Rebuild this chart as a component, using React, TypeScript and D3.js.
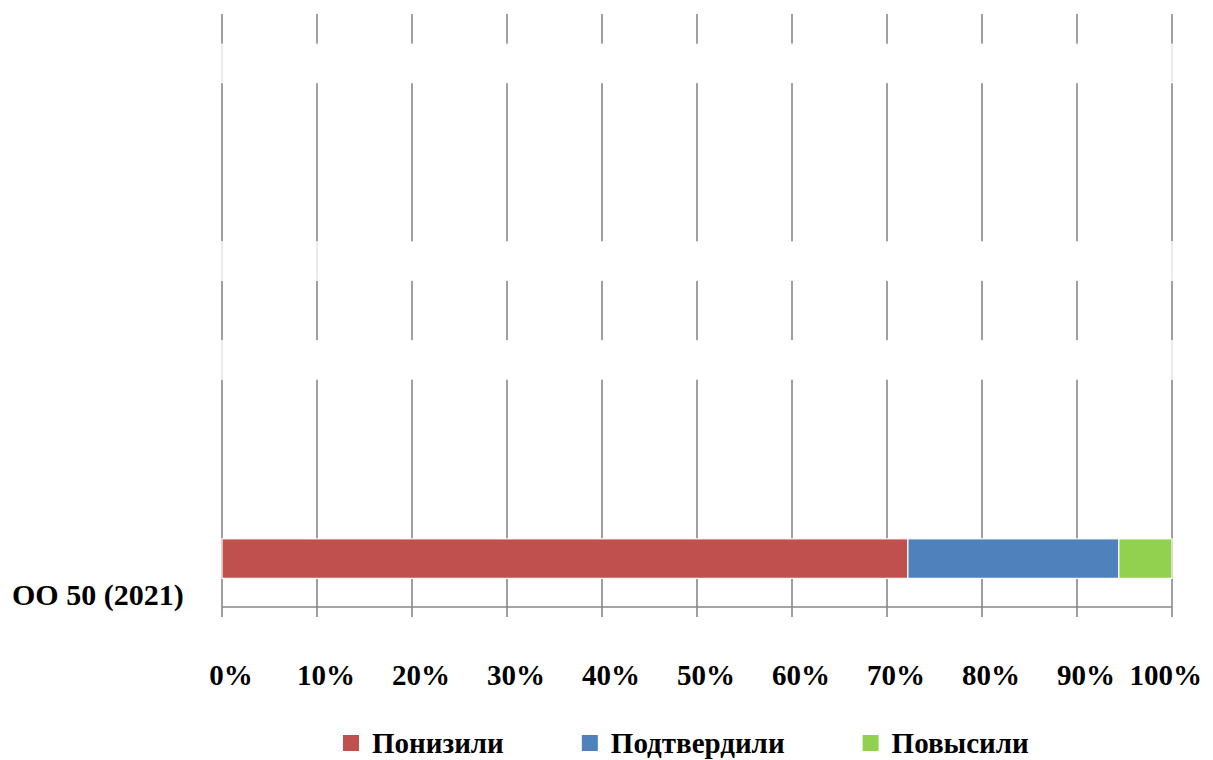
import React, { useEffect, useRef } from "react";
import * as d3 from "d3";

const categories = ["", "", "", "", "", "ОО 50 (2021)"];
const seriesNames = ["Понизили", "Подтвердили", "Повысили"];
const seriesColors = ["#C0504D", "#4F81BD", "#92D050"];
const ponizili = [0, 0, 0, 0, 0, 72.2];
const podtverdili = [0, 0, 0, 0, 0, 22.2];
const povysili = [0, 0, 0, 0, 0, 5.6];
// blank (white) rows hiding gridlines, stacked segment values per row
const blankRows = [[100], [], [10, 90], [100], [], []];
const xTicks = [0, 10, 20, 30, 40, 50, 60, 70, 80, 90, 100];

const W = 1213;
const H = 760;
const FONT = "'Liberation Serif', 'Times New Roman', serif";

export default function App() {
  const ref = useRef<SVGSVGElement>(null);

  useEffect(() => {
    const svg = d3.select(ref.current);
    svg.selectAll("*").remove();

    const left = 222, right = 1172, top = 14, bottom = 607;
    const x = d3.scaleLinear().domain([0, 100]).range([left, right]);
    const y = d3.scaleBand<number>()
      .domain(categories.map((_, i) => i))
      .range([top, bottom])
      .paddingInner(0.6)
      .paddingOuter(0.3);

    // gridlines + ticks
    svg.append("g").selectAll("line").data(xTicks).join("line")
      .attr("x1", (d) => x(d)).attr("x2", (d) => x(d))
      .attr("y1", top).attr("y2", bottom + 10)
      .attr("stroke", "#878787").attr("stroke-width", 1.6);
    svg.append("line")
      .attr("x1", left).attr("x2", right)
      .attr("y1", bottom).attr("y2", bottom)
      .attr("stroke", "#878787").attr("stroke-width", 1.6);

    // blank rows
    blankRows.forEach((segs, i) => {
      if (!segs.length) return;
      const y0 = y(i)!;
      const bw = y.bandwidth();
      svg.append("rect").attr("x", x(0) - 1).attr("y", y0).attr("width", x(100) - x(0) + 2)
        .attr("height", bw).attr("fill", "#ffffff");
      let acc = 0;
      const edges = [0];
      segs.forEach((v) => { acc += v; edges.push(acc); });
      svg.append("g").selectAll("line").data(edges).join("line")
        .attr("x1", (d) => x(d)).attr("x2", (d) => x(d))
        .attr("y1", y0 + 1).attr("y2", y0 + bw - 1)
        .attr("stroke", "#e2e2e2").attr("stroke-width", 1.4);
    });

    // stacked bars
    const rows = categories.map((c, i) => ({ c, i, v: [ponizili[i], podtverdili[i], povysili[i]] }));
    rows.forEach((r) => {
      const total = d3.sum(r.v);
      if (!total) return;
      let acc = 0;
      r.v.forEach((v, k) => {
        const x0 = x((acc / total) * 100);
        acc += v;
        const x1 = x((acc / total) * 100);
        svg.append("rect")
          .attr("x", x0).attr("y", y(r.i)! + 1)
          .attr("width", x1 - x0).attr("height", y.bandwidth())
          .attr("fill", seriesColors[k])
          .attr("stroke", "#ffffff").attr("stroke-width", 1.2);
      });
    });

    // category labels
    svg.append("g").selectAll("text").data(categories.map((c, i) => ({ c, i })).filter((d) => d.c)).join("text")
      .attr("x", 12)
      .attr("y", (d) => y(d.i)! + y.bandwidth() + 28)
      .attr("font-family", FONT).attr("font-weight", "bold").attr("font-size", 30)
      .attr("fill", "#000").text((d) => d.c);

    // x tick labels
    svg.append("g").selectAll("text").data(xTicks).join("text")
      .attr("x", (d, i) => (i === xTicks.length - 1 ? W - 11 : x(d) + 9))
      .attr("y", 685)
      .attr("text-anchor", (d, i) => (i === xTicks.length - 1 ? "end" : "middle"))
      .attr("font-family", FONT).attr("font-weight", "bold").attr("font-size", 29)
      .attr("fill", "#000").text((d) => d + "%");

    // legend
    let lx = 343;
    seriesNames.forEach((name, k) => {
      svg.append("rect").attr("x", lx).attr("y", 735).attr("width", 16).attr("height", 16)
        .attr("fill", seriesColors[k]);
      const t = svg.append("text").attr("x", lx + 29).attr("y", 753)
        .attr("font-family", FONT).attr("font-weight", "bold").attr("font-size", 29)
        .attr("fill", "#000").text(name);
      const w = (t.node() as SVGTextElement).getComputedTextLength();
      lx = lx + 29 + w + 78;
    });
  }, []);

  return (
    <svg ref={ref} width={W} height={H}
      style={{ position: "absolute", left: 0, top: 0, background: "#fff", display: "block" }} />
  );
}
